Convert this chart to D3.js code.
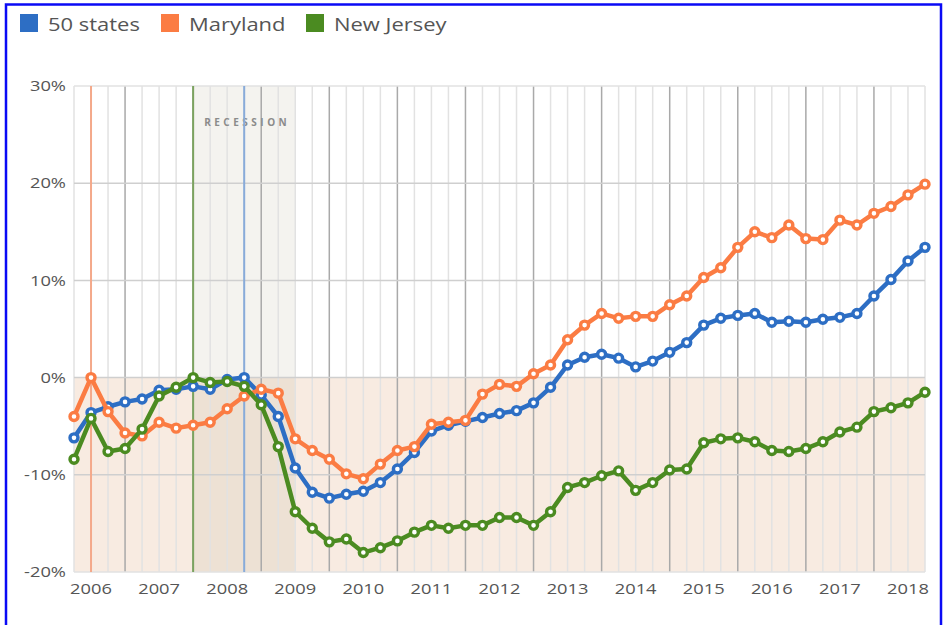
<!DOCTYPE html>
<html>
<head>
<meta charset="utf-8">
<script src="https://cdn.jsdelivr.net/npm/d3@7"></script>
<style>
  body { margin: 0; background: #fff; }
  svg { display: block; font-family: "Open Sans", sans-serif; }
</style>
</head>
<body>
<script>
// Quarterly % change from each series' pre-recession peak
const yearLabels = ["2006", "2007", "2008", "2009", "2010", "2011", "2012",
                    "2013", "2014", "2015", "2016", "2017", "2018"];

const usStates = [-6.2, -3.6, -3.0, -2.5, -2.2, -1.3, -1.2, -0.9, -1.2, -0.2,
  0, -1.8, -4.0, -9.3, -11.8, -12.4, -12.0, -11.7, -10.8, -9.4,
  -7.7, -5.5, -4.9, -4.5, -4.1, -3.7, -3.4, -2.6, -1.0, 1.3,
  2.1, 2.4, 2.0, 1.1, 1.7, 2.6, 3.6, 5.4, 6.1, 6.4,
  6.6, 5.7, 5.8, 5.7, 6.0, 6.2, 6.6, 8.4, 10.1, 12.0, 13.4];

const maryland = [-4.0, 0, -3.5, -5.7, -6.0, -4.6, -5.2, -4.9, -4.6, -3.2,
  -1.9, -1.2, -1.6, -6.3, -7.5, -8.4, -9.9, -10.4, -8.9, -7.5,
  -7.1, -4.8, -4.6, -4.4, -1.7, -0.7, -0.9, 0.4, 1.3, 3.9,
  5.4, 6.6, 6.1, 6.3, 6.3, 7.5, 8.4, 10.3, 11.3, 13.4,
  15.0, 14.4, 15.7, 14.3, 14.2, 16.2, 15.7, 16.9, 17.6, 18.8, 19.9];

const newJersey = [-8.4, -4.2, -7.6, -7.3, -5.3, -1.9, -1.0, 0, -0.5, -0.4,
  -0.9, -2.8, -7.1, -13.8, -15.5, -16.9, -16.6, -18.0, -17.5, -16.8,
  -15.9, -15.2, -15.5, -15.2, -15.2, -14.4, -14.4, -15.2, -13.8, -11.3,
  -10.8, -10.1, -9.6, -11.6, -10.8, -9.5, -9.4, -6.7, -6.3, -6.2,
  -6.6, -7.5, -7.6, -7.3, -6.6, -5.6, -5.1, -3.5, -3.1, -2.6, -1.5];

const yTicks = [30, 20, 10, 0, -10, -20];

// quarter index of the recession start/end and of each series' peak
const recession = [7, 13];
const series = [
  {name: "50 states",  values: usStates,  color: "#2d6ec4", peakColor: "#88abd9", peak: 10},
  {name: "Maryland",   values: maryland,  color: "#fb7c43", peakColor: "#f4a98a", peak: 1},
  {name: "New Jersey", values: newJersey, color: "#4b8b21", peakColor: "#7ba35f", peak: 7}
];

const width = 943, height = 625;
const plotLeft = 74, plotRight = 925, plotTop = 86, plotBottom = 572;
const stretch = 1.22;   // text in the original is drawn a bit wide

const svg = d3.select("body").append("svg")
  .attr("width", width)
  .attr("height", height);

const x = d3.scaleLinear()
  .domain([0, usStates.length - 1])
  .range([plotLeft, plotRight]);

const y = d3.scaleLinear()
  .domain([-20, 30])
  .range([plotBottom, plotTop]);

// blue frame
svg.append("path")
  .attr("d", `M6,${height + 5}V4.5H941V${height + 5}`)
  .attr("fill", "none")
  .attr("stroke", "#0a0af5")
  .attr("stroke-width", 2.5);

// negative band
svg.append("rect")
  .attr("x", plotLeft).attr("y", y(0))
  .attr("width", plotRight - plotLeft).attr("height", y(-20) - y(0))
  .attr("fill", "#f8ebe1");

// recession band
svg.append("rect")
  .attr("x", x(recession[0])).attr("y", plotTop)
  .attr("width", x(recession[1]) - x(recession[0])).attr("height", plotBottom - plotTop)
  .attr("fill", "#9a9270").attr("fill-opacity", 0.11);

// quarter lines
const idx = d3.range(usStates.length);
svg.append("g").selectAll("line")
  .data(idx.filter(i => i % 4 !== 3))
  .join("line")
  .attr("x1", d => x(d)).attr("x2", d => x(d))
  .attr("y1", plotTop).attr("y2", plotBottom)
  .attr("stroke", "#e2e2e2").attr("stroke-width", 1.5);

// year lines
svg.append("g").selectAll("line")
  .data(idx.filter(i => i % 4 === 3))
  .join("line")
  .attr("x1", d => x(d)).attr("x2", d => x(d))
  .attr("y1", plotTop).attr("y2", plotBottom)
  .attr("stroke", "#a9a9a9").attr("stroke-width", 1.5);

// horizontal grid
svg.append("g").selectAll("line")
  .data(yTicks)
  .join("line")
  .attr("x1", plotLeft).attr("x2", plotRight)
  .attr("y1", d => y(d)).attr("y2", d => y(d))
  .attr("stroke", d => (d === 30 || d === -20) ? "#e2e2e2" : "#cfcfcf")
  .attr("stroke-width", 1.5);

svg.append("text")
  .attr("x", x(recession[0]) + 11)
  .attr("y", 125.5)
  .attr("font-size", 10)
  .attr("font-weight", "bold")
  .attr("letter-spacing", 3.5)
  .attr("fill", "#8b8b8b")
  .text("RECESSION");

// peak markers
svg.append("g").selectAll("line")
  .data(series)
  .join("line")
  .attr("x1", d => x(d.peak)).attr("x2", d => x(d.peak))
  .attr("y1", plotTop).attr("y2", plotBottom)
  .attr("stroke", d => d.peakColor).attr("stroke-width", 2);

// y axis labels
svg.append("g").selectAll("text")
  .data(yTicks)
  .join("text")
  .attr("transform", d => `translate(66,${y(d)}) scale(${stretch},1)`)
  .attr("dy", "0.35em")
  .attr("text-anchor", "end")
  .attr("font-size", 15)
  .attr("fill", "#555")
  .text(d => d + "%");

// x axis labels (mid-year)
svg.append("g").selectAll("text")
  .data(yearLabels)
  .join("text")
  .attr("transform", (d, i) => `translate(${x(1 + i * 4)},594) scale(${stretch},1)`)
  .attr("text-anchor", "middle")
  .attr("font-size", 15)
  .attr("fill", "#555")
  .text(d => d);

// lines
const line = d3.line()
  .x((d, i) => x(i))
  .y(d => y(d));

const groups = svg.append("g").selectAll("g")
  .data(series)
  .join("g");

groups.append("path")
  .attr("d", d => line(d.values))
  .attr("fill", "none")
  .attr("stroke", d => d.color)
  .attr("stroke-width", 4.5)
  .attr("stroke-linejoin", "round");

groups.each(function(s) {
  d3.select(this).selectAll("circle")
    .data(s.values)
    .join("circle")
    .attr("cx", (d, i) => x(i))
    .attr("cy", d => y(d))
    .attr("r", 4)
    .attr("fill", "#fff")
    .attr("stroke", s.color)
    .attr("stroke-width", 3.4);
});

// legend
const legendX = [20, 161, 306];
const legend = svg.append("g").selectAll("g")
  .data(series)
  .join("g")
  .attr("transform", (d, i) => `translate(${legendX[i]},14)`);

legend.append("rect")
  .attr("width", 18).attr("height", 18)
  .attr("fill", d => d.color);

legend.append("text")
  .attr("transform", `translate(28,16.5) scale(${stretch},1)`)
  .attr("font-size", 18)
  .attr("fill", "#555")
  .text(d => d.name);
</script>
</body>
</html>
